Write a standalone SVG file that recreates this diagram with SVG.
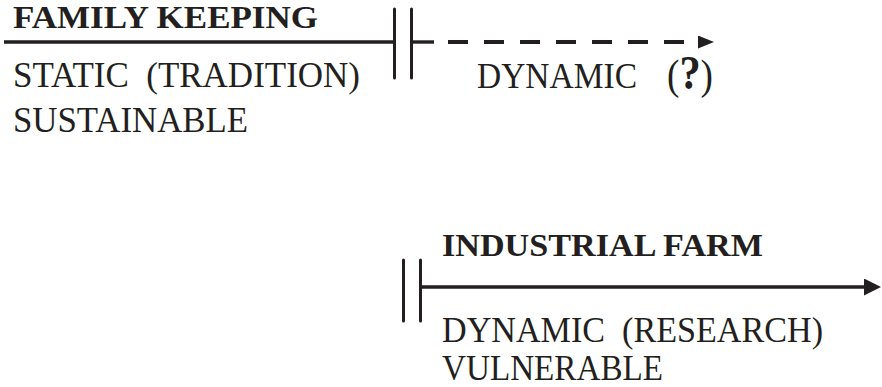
<svg xmlns="http://www.w3.org/2000/svg" width="882" height="387" viewBox="0 0 882 387">
  <style>
    .title { font-family: "Liberation Serif", "Times New Roman", serif; font-weight: bold; font-size: 31px; fill: #231f20; }
    .label { font-family: "Liberation Serif", "Times New Roman", serif; font-size: 36px; fill: #231f20; white-space: pre; }
    .paren { font-size: 42px; }
    .qmark { font-weight: bold; font-size: 48px; }
    .axis { stroke: #231f20; stroke-width: 3.4; fill: none; }
    .bar { stroke: #231f20; stroke-width: 3; stroke-linecap: round; }
    .dash { stroke-width: 3.8; stroke-dasharray: 20 16; }
  </style>
  <defs>
    <marker id="arrowSmall" markerUnits="userSpaceOnUse" markerWidth="18" markerHeight="14" refX="0" refY="6.5" orient="auto">
      <polygon points="0,0 16,6.5 0,13" fill="#231f20"/>
    </marker>
    <marker id="arrowLarge" markerUnits="userSpaceOnUse" markerWidth="20" markerHeight="20" refX="0" refY="8.5" orient="auto">
      <polygon points="0,0 17,8.5 0,17" fill="#231f20"/>
    </marker>
  </defs>

  <!-- Connectors: timelines with their break marks -->
  <g id="connectors">
    <line class="axis" x1="4" y1="42" x2="395" y2="42"/>
    <line class="axis" x1="412" y1="42" x2="434" y2="42"/>
    <path class="axis dash" d="M448,42 H698" marker-end="url(#arrowSmall)"/>
    <line class="bar" x1="394.5" y1="9" x2="394.5" y2="78"/>
    <line class="bar" x1="411.5" y1="9" x2="411.5" y2="78"/>

    <line class="bar" x1="403.5" y1="260" x2="403.5" y2="321"/>
    <line class="bar" x1="420.5" y1="260" x2="420.5" y2="321"/>
    <path class="axis" d="M420,287 H864" marker-end="url(#arrowLarge)"/>
  </g>

  <!-- Traditional keeping -->
  <g id="family-keeping">
    <text class="title" x="13" y="28" textLength="305" lengthAdjust="spacingAndGlyphs">FAMILY KEEPING</text>
    <text class="label" x="13" y="87" textLength="347" lengthAdjust="spacingAndGlyphs">STATIC  (TRADITION)</text>
    <text class="label" x="13" y="132" textLength="235" lengthAdjust="spacingAndGlyphs">SUSTAINABLE</text>
  </g>

  <!-- Future of traditional keeping -->
  <g id="family-future">
    <text class="label" x="477" y="88" textLength="160" lengthAdjust="spacingAndGlyphs">DYNAMIC</text>
    <text class="label paren" x="667" y="89" textLength="46" lengthAdjust="spacingAndGlyphs">(<tspan class="qmark">?</tspan>)</text>
  </g>

  <!-- Industrial farming -->
  <g id="industrial-farm">
    <text class="title" x="442" y="256" textLength="321" lengthAdjust="spacingAndGlyphs">INDUSTRIAL FARM</text>
    <text class="label" x="442" y="342" textLength="381" lengthAdjust="spacingAndGlyphs">DYNAMIC  (RESEARCH)</text>
    <text class="label" x="442" y="380" textLength="221" lengthAdjust="spacingAndGlyphs">VULNERABLE</text>
  </g>
</svg>
